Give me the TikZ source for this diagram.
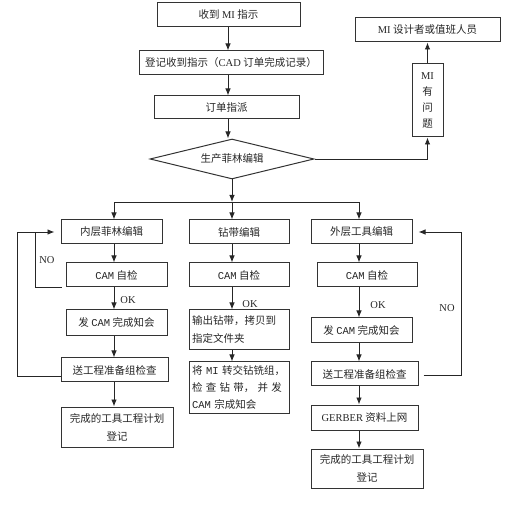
\documentclass[tikz,border=0pt]{standalone}
\usepackage{fontspec}
\setmainfont{Liberation Serif}
\setmonofont{Liberation Mono}
\newfontfamily\cjk{Noto Sans CJK SC}
\usetikzlibrary{shapes.geometric, arrows.meta}

\begin{document}
\begin{tikzpicture}[x=1pt, y=-1pt, >={Latex[length=7pt, width=5.5pt]},
  box/.style={draw=black!80, line width=1pt, text=black!85, inner sep=3pt,
    font=\cjk\fontsize{10.5}{18}\selectfont},
  decision/.style={box, diamond, aspect=4, inner sep=0pt},
  lbl/.style={inner sep=0pt, text=black!85, font=\rmfamily\fontsize{10.5}{12}\selectfont},
  line/.style={draw=black!85, line width=0.9pt}]
  \useasboundingbox (0,0) rectangle (530,510);

  \coordinate (colT) at (228,0);
  \coordinate (colL) at (114,0);
  \coordinate (colM) at (232,0);
  \coordinate (colR) at (359,0);

  \node[box, minimum width=143pt, minimum height=24pt] (rcv) at (228.5,15) {收到 \textrm{MI} 指示};
  \node[box, minimum width=184pt, minimum height=24pt] (reg) at (231,63) {登记收到指示（\textrm{CAD} 订单完成记录）};
  \node[box, minimum width=145pt, minimum height=23pt] (asg) at (226.5,107.5) {订单指派};
  \node[decision, minimum width=164pt, minimum height=40pt] (edt) at (232,159) {生产菲林编辑};
  \node[box, minimum width=145pt, minimum height=24pt] (mid) at (427.5,30) {\textrm{MI} 设计者或值班人员};
  \node[box, minimum width=31pt, minimum height=73pt, align=center,
    font=\cjk\fontsize{10.5}{16}\selectfont] (iss) at (427.5,100.5) {\textrm{MI}\\有\\问\\题};
  \coordinate (spl) at (232,202);

  \node[box, minimum width=101pt, minimum height=24pt] (in1) at (111.5,232) {内层菲林编辑};
  \node[box, minimum width=101pt, minimum height=24pt] (in2) at (116.5,275) {\texttt{CAM} 自检};
  \node[box, minimum width=101pt, minimum height=26pt] (in3) at (116.5,323) {发 \texttt{CAM} 完成知会};
  \node[box, minimum width=107pt, minimum height=24pt] (in4) at (114.5,370) {送工程准备组检查};
  \node[box, minimum width=112pt, minimum height=40pt, align=center] (in5) at (117,427) {完成的工具工程计划\\登记};

  \node[box, minimum width=100pt, minimum height=24pt] (dr1) at (239,232) {钻带编辑};
  \node[box, minimum width=100pt, minimum height=24pt] (dr2) at (239,275) {\texttt{CAM} 自检};
  \node[box, text width=94pt, inner sep=3pt, minimum height=40pt, align=left] (dr3) at (239,330) {输出钻带，拷贝到\\指定文件夹};
  \node[box, text width=94pt, inner sep=3pt, minimum height=51pt, align=left,
    font=\cjk\fontsize{10.5}{17}\selectfont] (dr4) at (239,387.5)
    {\mbox{将 \texttt{MI} 转交钻铣组，}\\\makebox[90pt][s]{检\hfil 查\hfil 钻\hfil 带，\hfil 并\hfil 发}\\\texttt{CAM} 宗成知会};

  \node[box, minimum width=101pt, minimum height=24pt] (ou1) at (361.5,232) {外层工具编辑};
  \node[box, minimum width=100pt, minimum height=24pt] (ou2) at (367,275) {\texttt{CAM} 自检};
  \node[box, minimum width=101pt, minimum height=25pt] (ou3) at (361.5,330.5) {发 \texttt{CAM} 完成知会};
  \node[box, minimum width=107pt, minimum height=24pt] (ou4) at (364.5,374) {送工程准备组检查};
  \node[box, minimum width=107pt, minimum height=25pt] (ou5) at (364.5,417.5) {\textrm{GERBER} 资料上网};
  \node[box, minimum width=112pt, minimum height=39pt, align=center] (ou6) at (367,468.5) {完成的工具工程计划\\登记};

  \node[lbl] (noL) at (47,260) {NO};
  \node[lbl] (noR) at (447,308) {NO};

  \draw[line, ->] (rcv.south -| colT) -- (reg.north -| colT);
  \draw[line, ->] (reg.south -| colT) -- (asg.north -| colT);
  \draw[line, ->] (asg.south -| colT) -- (edt.north -| colT);
  \draw[line, ->] (edt.south) -- (spl);
  \draw[line, ->] (edt.east) -| (iss.south);
  \draw[line, ->] (iss) -- (mid);

  \draw[line, ->] (spl) -| (in1.north -| colL);
  \draw[line, ->] (spl) -- (dr1.north -| colM);
  \draw[line, ->] (spl) -| (ou1.north -| colR);

  \draw[line, ->] (in1.south -| colL) -- (in2.north -| colL);
  \draw[line, ->] (in2.south -| colL) -- node[lbl, right=6pt, pos=0.55] {OK} (in3.north -| colL);
  \draw[line, ->] (in3.south -| colL) -- (in4.north -| colL);
  \draw[line, ->] (in4.south -| colL) -- (in5.north -| colL);

  \draw[line, ->] (dr1.south -| colM) -- (dr2.north -| colM);
  \draw[line, ->] (dr2.south -| colM) -- node[lbl, right=10pt, pos=0.75] {OK} (dr3.north -| colM);
  \draw[line, ->] (dr3.south -| colM) -- (dr4.north -| colM);

  \draw[line, ->] (ou1.south -| colR) -- (ou2.north -| colR);
  \draw[line, ->] (ou2.south -| colR) -- node[lbl, right=11pt, pos=0.58] {OK} (ou3.north -| colR);
  \draw[line, ->] (ou3.south -| colR) -- (ou4.north -| colR);
  \draw[line, ->] (ou4.south -| colR) -- (ou5.north -| colR);
  \draw[line, ->] (ou5.south -| colR) -- (ou6.north -| colR);

  \coordinate (lpO) at (17,232);
  \coordinate (lpI) at (35,232);
  \coordinate (lpR) at (461,232);
  \draw[line, ->] ([yshift=-6pt]in4.west) -| (lpO) -- ([xshift=-6pt]in1.west);
  \draw[line] ([xshift=-4pt]in2.south west) -| (lpI);
  \draw[line, ->] ([xshift=5pt, yshift=-1pt]ou4.east) -| (lpR) -- ([xshift=6pt]ou1.east);
\end{tikzpicture}
\end{document}
